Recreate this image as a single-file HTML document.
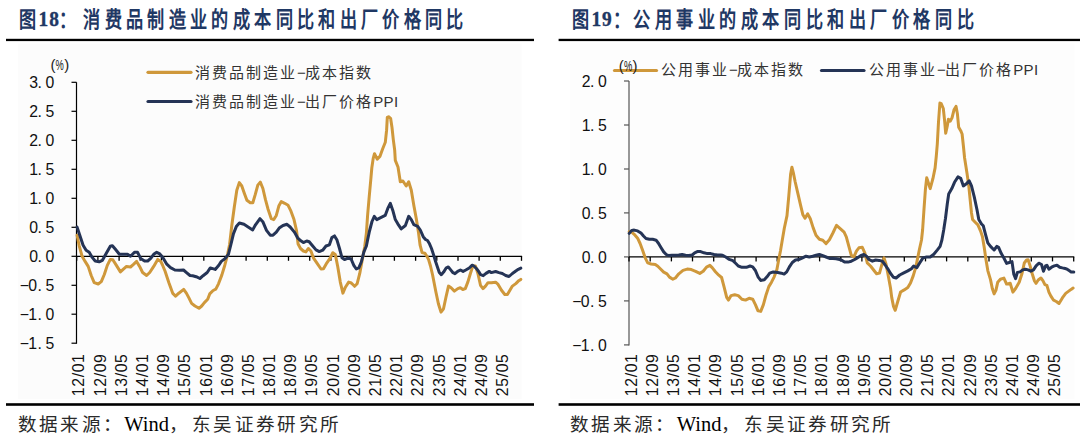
<!DOCTYPE html>
<html lang="zh-CN"><head><meta charset="utf-8"><title>chart</title>
<style>
html,body{margin:0;padding:0;background:#fff;}
body{width:1080px;height:446px;overflow:hidden;position:relative;}
svg{display:block;}
</style></head><body>
<svg width="1080" height="446" viewBox="0 0 1080 446">
<rect width="1080" height="446" fill="#fff"/>
<g font-family="Liberation Serif, serif" font-weight="bold" font-size="21.4" fill="#1F3864" letter-spacing="5.72">
<text transform="translate(19.2,27) scale(0.8,1)">图</text><text transform="translate(38.6,26.2) scale(0.9,1)" font-size="21.5" letter-spacing="1.1" stroke="#1F3864" stroke-width="0.4">18</text><text transform="translate(59.0,27) scale(0.8,1)">：<tspan dx="3.6">消</tspan>费品制造业的成本同比和出厂价格同比</text>
<text transform="translate(571.6,27) scale(0.8,1)">图</text><text transform="translate(591.4,26.2) scale(0.9,1)" font-size="21.5" letter-spacing="1.1" stroke="#1F3864" stroke-width="0.4">19</text><text transform="translate(612.9,27) scale(0.8,1)" letter-spacing="5.97">：<tspan dx="-1.7">公</tspan>用事业的成本同比和出厂价格同比</text>
</g>
<rect x="6" y="38.8" width="528" height="2.3" fill="#000"/>
<rect x="558.6" y="38.8" width="521.4" height="2.3" fill="#000"/>
<rect x="6" y="403.2" width="528" height="2.6" fill="#000"/>
<rect x="558.6" y="403.2" width="521.4" height="2.6" fill="#000"/>
<rect x="17.8" y="43.6" width="503.9" height="355.2" fill="#FCFCFC"/>
<g stroke="#000" stroke-width="1.2" fill="none">
<line x1="76.5" y1="82.3" x2="76.5" y2="343.8"/>
<line x1="71.5" y1="82.3" x2="76.5" y2="82.3"/>
<line x1="71.5" y1="111.3" x2="76.5" y2="111.3"/>
<line x1="71.5" y1="140.3" x2="76.5" y2="140.3"/>
<line x1="71.5" y1="169.3" x2="76.5" y2="169.3"/>
<line x1="71.5" y1="198.3" x2="76.5" y2="198.3"/>
<line x1="71.5" y1="227.3" x2="76.5" y2="227.3"/>
<line x1="71.5" y1="256.3" x2="76.5" y2="256.3"/>
<line x1="71.5" y1="285.3" x2="76.5" y2="285.3"/>
<line x1="71.5" y1="314.2" x2="76.5" y2="314.2"/>
<line x1="71.5" y1="343.2" x2="76.5" y2="343.2"/>
</g>
<g stroke="#000" stroke-width="1.3" fill="none">
<line x1="76.7" y1="256.3" x2="522.1" y2="256.3"/>
<line x1="76.7" y1="256.3" x2="76.7" y2="260.8"/>
<line x1="97.9" y1="256.3" x2="97.9" y2="260.8"/>
<line x1="119.1" y1="256.3" x2="119.1" y2="260.8"/>
<line x1="140.2" y1="256.3" x2="140.2" y2="260.8"/>
<line x1="161.4" y1="256.3" x2="161.4" y2="260.8"/>
<line x1="182.6" y1="256.3" x2="182.6" y2="260.8"/>
<line x1="203.8" y1="256.3" x2="203.8" y2="260.8"/>
<line x1="225.0" y1="256.3" x2="225.0" y2="260.8"/>
<line x1="246.1" y1="256.3" x2="246.1" y2="260.8"/>
<line x1="267.3" y1="256.3" x2="267.3" y2="260.8"/>
<line x1="288.5" y1="256.3" x2="288.5" y2="260.8"/>
<line x1="309.7" y1="256.3" x2="309.7" y2="260.8"/>
<line x1="330.9" y1="256.3" x2="330.9" y2="260.8"/>
<line x1="352.1" y1="256.3" x2="352.1" y2="260.8"/>
<line x1="373.2" y1="256.3" x2="373.2" y2="260.8"/>
<line x1="394.4" y1="256.3" x2="394.4" y2="260.8"/>
<line x1="415.6" y1="256.3" x2="415.6" y2="260.8"/>
<line x1="436.8" y1="256.3" x2="436.8" y2="260.8"/>
<line x1="458.0" y1="256.3" x2="458.0" y2="260.8"/>
<line x1="479.1" y1="256.3" x2="479.1" y2="260.8"/>
<line x1="500.3" y1="256.3" x2="500.3" y2="260.8"/>
<line x1="521.5" y1="256.3" x2="521.5" y2="260.8"/>
</g>
<path d="M77.1,235.2 L79.1,245.3 L82.1,256.3 L85.1,261.4 L88.2,266.4 L91.2,275.5 L94.2,282.6 L98.2,284.0 L101.3,281.6 L104.3,274.5 L107.3,265.4 L110.3,259.4 L112.8,259.8 L116.4,265.4 L120.4,271.9 L123.4,269.1 L126.5,266.4 L130.5,267.0 L133.5,264.4 L136.6,261.4 L139.6,266.4 L142.6,272.5 L146.6,275.5 L149.7,272.5 L153.7,266.4 L157.7,259.4 L160.8,261.4 L162.5,265.0 L165.1,271.3 L168.8,282.5 L172.8,293.4 L175.6,296.2 L178.8,293.2 L183.7,289.4 L186.5,293.4 L188.9,297.9 L191.6,303.3 L195.0,306.0 L199.0,308.3 L201.7,306.0 L204.4,302.6 L207.7,299.3 L209.7,293.9 L213.1,290.5 L215.8,289.2 L218.5,283.8 L221.8,275.1 L224.8,265.2 L227.4,255.3 L229.6,244.5 L231.8,225.5 L234.3,207.0 L236.8,190.2 L239.3,182.6 L241.8,186.0 L244.4,193.5 L246.9,200.3 L250.3,202.8 L252.8,202.8 L255.3,194.4 L257.8,185.1 L260.3,182.1 L262.9,188.5 L265.4,199.4 L267.9,208.7 L271.3,218.7 L273.8,219.6 L276.3,215.4 L278.8,206.1 L281.3,201.6 L284.7,203.3 L288.1,205.3 L290.6,210.3 L294.0,219.6 L296.5,230.5 L298.1,244.0 L300.5,248.5 L303.4,251.0 L305.9,251.9 L308.4,248.5 L310.9,251.0 L313.4,257.8 L316.8,262.8 L321.0,269.0 L323.5,268.7 L326.9,262.8 L330.3,257.8 L332.8,252.7 L335.3,254.4 L337.8,267.0 L340.3,282.1 L342.9,293.1 L345.4,287.2 L348.7,282.1 L351.3,283.0 L354.6,286.3 L357.1,283.8 L359.7,273.7 L362.2,260.3 L364.7,246.8 L366.4,233.0 L367.6,215.4 L369.2,196.9 L370.9,178.4 L371.8,168.0 L373.2,158.4 L374.5,153.7 L377.2,159.1 L379.9,156.4 L382.6,149.0 L385.3,142.3 L386.6,130.2 L387.3,117.4 L388.6,116.7 L390.6,118.3 L392.0,127.5 L393.3,139.6 L394.7,150.3 L395.3,160.4 L398.0,167.0 L400.3,181.8 L402.9,181.0 L406.2,186.0 L408.7,181.8 L411.3,190.2 L413.8,205.3 L416.3,218.8 L418.5,232.6 L420.1,245.2 L422.1,252.6 L424.8,253.2 L426.8,256.0 L428.6,259.6 L430.5,266.0 L432.6,275.0 L435.9,292.0 L438.4,303.7 L441.0,312.1 L443.5,308.8 L446.0,297.0 L448.5,286.1 L451.1,287.8 L454.4,291.1 L457.8,288.6 L460.3,287.8 L462.8,289.5 L465.3,288.6 L467.9,281.9 L470.4,273.5 L472.9,265.9 L475.4,265.9 L477.9,273.5 L480.5,285.3 L483.0,288.6 L485.5,286.1 L488.0,282.7 L491.4,282.7 L495.6,282.2 L498.1,284.4 L501.5,290.3 L504.8,294.5 L507.4,294.5 L509.9,290.3 L512.4,286.1 L515.8,283.6 L518.3,281.1 L520.8,279.4" fill="none" stroke="#CF983B" stroke-width="3.0" stroke-linejoin="round" stroke-linecap="round"/>
<path d="M77.1,227.1 L79.1,233.2 L83.1,245.3 L86.1,250.3 L89.2,252.3 L92.2,257.4 L95.2,261.0 L99.2,261.8 L102.3,260.4 L106.3,253.3 L110.3,246.3 L112.4,245.7 L115.4,249.3 L119.4,254.3 L123.4,254.3 L127.5,254.3 L130.5,256.3 L134.5,252.3 L137.6,252.3 L140.6,258.4 L144.6,261.0 L147.7,261.0 L150.7,258.4 L153.7,254.3 L156.7,252.3 L159.8,253.9 L162.8,257.4 L166.8,264.2 L170.5,267.6 L174.9,270.0 L179.5,270.2 L183.5,270.0 L186.8,272.8 L190.0,275.5 L192.6,275.7 L196.2,276.7 L199.9,278.5 L203.1,275.7 L207.2,272.5 L210.3,267.9 L215.2,269.4 L218.8,265.2 L221.3,261.4 L225.3,258.4 L228.4,254.3 L230.8,245.0 L233.5,233.6 L236.3,226.6 L239.4,223.0 L244.0,224.3 L248.1,226.9 L252.7,229.9 L255.5,224.8 L260.0,218.7 L262.8,221.7 L266.5,230.4 L270.2,235.2 L273.0,235.2 L276.3,232.2 L279.2,228.1 L283.0,225.5 L287.0,224.3 L290.2,227.0 L294.4,232.1 L297.6,237.8 L300.8,240.8 L303.4,242.6 L306.7,241.0 L309.2,241.8 L312.3,245.5 L316.0,249.9 L319.3,251.6 L322.7,250.2 L326.0,246.0 L329.4,244.8 L331.9,237.6 L334.5,235.9 L337.0,240.1 L339.5,248.5 L342.0,257.8 L344.5,259.5 L348.7,257.8 L351.3,259.5 L353.8,265.3 L356.3,269.0 L358.8,267.9 L361.3,262.0 L363.9,251.9 L366.4,246.0 L367.5,240.5 L369.5,231.0 L372.0,221.5 L374.3,216.3 L376.8,219.6 L380.2,217.9 L385.2,215.4 L387.7,208.7 L390.3,203.3 L392.8,210.4 L395.3,219.6 L397.8,223.8 L401.2,228.9 L405.4,225.5 L408.7,216.3 L411.3,219.6 L413.8,224.7 L417.7,226.3 L420.3,230.0 L423.2,236.7 L425.5,239.5 L427.5,240.5 L429.5,243.8 L431.5,248.5 L433.5,254.6 L435.5,261.3 L437.6,267.4 L439.3,272.5 L441.3,274.7 L443.6,272.1 L446.3,267.8 L448.3,267.0 L450.3,269.4 L453.0,272.7 L455.0,273.7 L457.7,271.4 L460.4,270.0 L463.1,271.4 L465.8,270.0 L469.2,268.0 L472.2,265.2 L473.9,266.0 L476.6,268.7 L478.6,271.4 L480.6,274.7 L483.2,275.7 L486.0,273.4 L489.3,271.4 L491.4,272.6 L495.6,271.5 L499.0,272.6 L502.3,273.5 L505.7,275.5 L509.0,276.5 L512.4,273.5 L515.8,271.0 L518.3,269.3 L520.8,268.1" fill="none" stroke="#253456" stroke-width="3.0" stroke-linejoin="round" stroke-linecap="round"/>
<g font-family="Liberation Sans, sans-serif" font-size="15.8" fill="#111" text-anchor="end" letter-spacing="0.6">
<text transform="translate(84.4,353.6) rotate(-90)">12/01</text>
<text transform="translate(105.6,353.6) rotate(-90)">12/09</text>
<text transform="translate(126.8,353.6) rotate(-90)">13/05</text>
<text transform="translate(147.9,353.6) rotate(-90)">14/01</text>
<text transform="translate(169.1,353.6) rotate(-90)">14/09</text>
<text transform="translate(190.3,353.6) rotate(-90)">15/05</text>
<text transform="translate(211.5,353.6) rotate(-90)">16/01</text>
<text transform="translate(232.7,353.6) rotate(-90)">16/09</text>
<text transform="translate(253.8,353.6) rotate(-90)">17/05</text>
<text transform="translate(275.0,353.6) rotate(-90)">18/01</text>
<text transform="translate(296.2,353.6) rotate(-90)">18/09</text>
<text transform="translate(317.4,353.6) rotate(-90)">19/05</text>
<text transform="translate(338.6,353.6) rotate(-90)">20/01</text>
<text transform="translate(359.8,353.6) rotate(-90)">20/09</text>
<text transform="translate(380.9,353.6) rotate(-90)">21/05</text>
<text transform="translate(402.1,353.6) rotate(-90)">22/01</text>
<text transform="translate(423.3,353.6) rotate(-90)">22/09</text>
<text transform="translate(444.5,353.6) rotate(-90)">23/05</text>
<text transform="translate(465.7,353.6) rotate(-90)">24/01</text>
<text transform="translate(486.8,353.6) rotate(-90)">24/09</text>
<text transform="translate(508.0,353.6) rotate(-90)">25/05</text>
</g>
<g font-family="Liberation Sans, sans-serif" font-size="15.8" fill="#111">
<text x="29.3" y="88.1">3</text>
<text x="37.6" y="88.1">.</text>
<text x="45.6" y="88.1">0</text>
<text x="29.3" y="117.1">2</text>
<text x="37.6" y="117.1">.</text>
<text x="45.6" y="117.1">5</text>
<text x="29.3" y="146.1">2</text>
<text x="37.6" y="146.1">.</text>
<text x="45.6" y="146.1">0</text>
<text x="29.3" y="175.1">1</text>
<text x="37.6" y="175.1">.</text>
<text x="45.6" y="175.1">5</text>
<text x="29.3" y="204.1">1</text>
<text x="37.6" y="204.1">.</text>
<text x="45.6" y="204.1">0</text>
<text x="29.3" y="233.1">0</text>
<text x="37.6" y="233.1">.</text>
<text x="45.6" y="233.1">5</text>
<text x="29.3" y="262.1">0</text>
<text x="37.6" y="262.1">.</text>
<text x="45.6" y="262.1">0</text>
<text x="19.8" y="291.1">−</text>
<text x="28.3" y="291.1">0</text>
<text x="37.6" y="291.1">.</text>
<text x="45.6" y="291.1">5</text>
<text x="19.8" y="320.1">−</text>
<text x="28.3" y="320.1">1</text>
<text x="37.6" y="320.1">.</text>
<text x="45.6" y="320.1">0</text>
<text x="19.8" y="349.0">−</text>
<text x="28.3" y="349.0">1</text>
<text x="37.6" y="349.0">.</text>
<text x="45.6" y="349.0">5</text>
</g>
<g>
<line x1="148" y1="72.3" x2="191" y2="72.3" stroke="#CF983B" stroke-width="3.2" stroke-linecap="round"/>
<line x1="148" y1="101.5" x2="191" y2="101.5" stroke="#253456" stroke-width="3.2" stroke-linecap="round"/>
<g font-family="Liberation Sans, sans-serif" font-size="15" fill="#333" letter-spacing="2">
<text x="195" y="77.6">消费品制造业<tspan letter-spacing="-0.5">−</tspan>成本指数</text>
<text x="195" y="106.9">消费品制造业<tspan letter-spacing="-0.5">−</tspan>出厂价格<tspan letter-spacing="0.3">PPI</tspan></text>
</g>
<g font-family="Liberation Sans, sans-serif" font-size="15" fill="#222"><text x="50.4" y="69.6">(</text><text transform="translate(55.6,69.6) scale(0.62,1)">%</text><text x="64.2" y="69.6">)</text></g>
</g>
<rect x="570.3" y="43.6" width="504.3" height="355.2" fill="#FDFDFD"/>
<g stroke="#555" stroke-width="1.2" fill="none">
<line x1="629.0" y1="81.0" x2="629.0" y2="345.5"/>
<line x1="624.0" y1="81.0" x2="629.0" y2="81.0"/>
<line x1="624.0" y1="125.0" x2="629.0" y2="125.0"/>
<line x1="624.0" y1="169.0" x2="629.0" y2="169.0"/>
<line x1="624.0" y1="212.9" x2="629.0" y2="212.9"/>
<line x1="624.0" y1="256.9" x2="629.0" y2="256.9"/>
<line x1="624.0" y1="300.9" x2="629.0" y2="300.9"/>
<line x1="624.0" y1="344.9" x2="629.0" y2="344.9"/>
</g>
<g stroke="#000" stroke-width="1.3" fill="none">
<line x1="629.0" y1="256.9" x2="1074.3" y2="256.9"/>
<line x1="629.0" y1="256.9" x2="629.0" y2="261.4"/>
<line x1="650.2" y1="256.9" x2="650.2" y2="261.4"/>
<line x1="671.4" y1="256.9" x2="671.4" y2="261.4"/>
<line x1="692.5" y1="256.9" x2="692.5" y2="261.4"/>
<line x1="713.7" y1="256.9" x2="713.7" y2="261.4"/>
<line x1="734.9" y1="256.9" x2="734.9" y2="261.4"/>
<line x1="756.1" y1="256.9" x2="756.1" y2="261.4"/>
<line x1="777.2" y1="256.9" x2="777.2" y2="261.4"/>
<line x1="798.4" y1="256.9" x2="798.4" y2="261.4"/>
<line x1="819.6" y1="256.9" x2="819.6" y2="261.4"/>
<line x1="840.8" y1="256.9" x2="840.8" y2="261.4"/>
<line x1="861.9" y1="256.9" x2="861.9" y2="261.4"/>
<line x1="883.1" y1="256.9" x2="883.1" y2="261.4"/>
<line x1="904.3" y1="256.9" x2="904.3" y2="261.4"/>
<line x1="925.5" y1="256.9" x2="925.5" y2="261.4"/>
<line x1="946.6" y1="256.9" x2="946.6" y2="261.4"/>
<line x1="967.8" y1="256.9" x2="967.8" y2="261.4"/>
<line x1="989.0" y1="256.9" x2="989.0" y2="261.4"/>
<line x1="1010.2" y1="256.9" x2="1010.2" y2="261.4"/>
<line x1="1031.3" y1="256.9" x2="1031.3" y2="261.4"/>
<line x1="1052.5" y1="256.9" x2="1052.5" y2="261.4"/>
<line x1="1073.7" y1="256.9" x2="1073.7" y2="261.4"/>
</g>
<path d="M629.2,231.8 L631.7,232.1 L634.2,234.3 L637.6,238.2 L640.1,243.5 L642.6,250.3 L645.2,257.8 L647.7,262.9 L651.1,264.0 L655.3,264.5 L657.8,266.2 L660.3,268.7 L663.7,272.1 L667.0,273.8 L669.5,277.1 L672.9,279.2 L675.4,278.0 L678.8,273.8 L683.0,270.4 L687.2,269.1 L691.4,269.6 L695.6,271.3 L699.8,273.4 L703.2,271.3 L706.5,267.1 L709.9,265.4 L712.4,267.9 L715.4,271.7 L718.8,275.2 L721.6,277.5 L724.0,286.6 L726.7,297.4 L728.5,300.1 L731.1,295.6 L734.7,294.7 L738.3,295.6 L741.9,299.2 L745.5,300.1 L749.1,298.3 L752.7,299.2 L755.4,304.6 L758.0,310.9 L760.7,311.4 L763.4,304.6 L766.1,294.7 L768.8,286.6 L771.5,282.2 L774.2,276.8 L776.9,269.6 L778.7,259.7 L780.5,250.8 L782.3,240.0 L784.3,228.2 L787.0,215.6 L788.8,195.9 L790.6,174.3 L791.9,167.2 L793.3,172.6 L795.1,181.5 L797.8,193.2 L800.5,204.8 L802.9,214.8 L805.0,218.3 L807.7,213.9 L810.3,218.8 L813.2,227.9 L816.0,235.3 L819.4,239.2 L822.8,240.2 L826.1,243.6 L829.4,239.8 L832.9,233.0 L836.5,225.4 L840.2,228.7 L844.1,232.2 L846.3,236.8 L848.8,246.1 L851.3,255.3 L853.9,257.0 L856.4,251.1 L858.9,247.8 L862.3,247.3 L864.8,252.8 L867.3,262.9 L870.7,266.3 L874.0,270.5 L876.6,273.8 L879.5,273.1 L881.7,265.2 L884.0,257.9 L886.0,264.0 L888.5,277.0 L890.5,288.0 L891.7,297.4 L893.5,306.4 L895.2,310.3 L897.9,301.0 L900.6,292.0 L904.2,289.9 L907.8,287.5 L910.5,283.0 L913.2,275.9 L915.9,266.9 L917.7,257.9 L919.5,249.0 L921.5,240.0 L922.6,230.0 L924.0,209.2 L925.4,189.5 L926.7,177.8 L928.5,183.2 L930.2,188.6 L932.9,178.7 L935.1,167.9 L936.3,156.0 L937.3,144.0 L938.5,122.0 L939.9,103.1 L941.2,103.7 L943.3,108.5 L944.6,120.6 L945.7,133.3 L947.3,125.9 L948.4,119.2 L950.2,121.2 L952.0,117.9 L954.0,109.8 L956.0,106.4 L957.4,113.8 L958.7,127.3 L960.7,130.7 L962.1,134.0 L963.4,146.0 L964.6,158.0 L967.0,173.3 L968.8,185.9 L970.2,200.2 L971.5,213.0 L972.6,219.5 L975.2,222.2 L977.9,224.9 L980.6,231.1 L982.4,236.5 L984.2,247.3 L986.0,259.8 L987.8,270.6 L990.5,279.6 L992.3,288.5 L994.1,293.9 L995.9,290.3 L997.7,282.3 L1000.4,279.2 L1003.9,278.1 L1006.6,284.1 L1010.2,283.2 L1012.9,292.1 L1015.6,288.5 L1019.2,282.3 L1022.0,273.5 L1024.3,263.0 L1026.6,260.0 L1028.1,259.8 L1030.1,265.9 L1032.3,274.0 L1034.5,281.0 L1036.1,283.3 L1038.2,280.0 L1040.9,278.0 L1042.9,280.7 L1044.9,284.7 L1046.9,285.4 L1048.9,292.1 L1050.9,296.1 L1053.6,300.2 L1056.3,301.5 L1059.0,303.5 L1061.0,300.2 L1063.1,296.8 L1065.7,293.4 L1068.4,291.4 L1071.1,289.4 L1073.1,288.1" fill="none" stroke="#CF983B" stroke-width="3.0" stroke-linejoin="round" stroke-linecap="round"/>
<path d="M629.2,233.4 L631.7,230.4 L634.2,230.1 L637.6,230.9 L641.0,233.1 L643.5,236.0 L646.0,238.5 L649.4,239.3 L652.7,239.3 L656.1,240.2 L658.6,243.5 L661.1,247.7 L663.7,251.9 L666.2,254.5 L668.7,255.6 L672.1,255.3 L675.4,255.3 L678.8,255.0 L682.1,254.5 L685.5,255.3 L688.9,255.6 L692.2,255.0 L694.7,252.8 L697.3,251.6 L700.6,251.6 L704.0,252.8 L707.4,253.6 L710.7,253.6 L714.1,254.5 L717.4,255.1 L720.8,255.0 L722.2,255.2 L725.8,257.0 L729.3,259.4 L732.9,260.6 L735.6,263.3 L738.3,266.0 L741.9,267.3 L746.4,267.3 L750.0,266.0 L752.7,266.9 L755.4,270.5 L758.0,276.8 L760.7,280.4 L764.3,279.8 L767.0,276.8 L769.7,273.2 L773.3,271.9 L777.8,272.6 L781.4,273.2 L784.1,274.1 L786.7,271.9 L789.4,266.9 L792.3,262.5 L795.5,260.0 L799.2,259.5 L802.6,257.9 L806.0,256.2 L809.3,257.0 L812.7,256.2 L816.1,255.3 L819.4,254.5 L822.8,255.7 L826.1,257.0 L829.5,258.4 L832.9,258.4 L836.2,258.7 L839.6,259.5 L842.1,260.4 L844.6,262.1 L848.0,262.1 L851.3,261.2 L854.7,259.5 L857.2,257.9 L860.6,255.7 L863.9,254.5 L866.5,256.2 L869.0,259.5 L872.4,261.2 L875.7,260.0 L879.1,260.4 L882.5,261.3 L885.2,265.0 L887.8,268.8 L890.6,273.5 L893.5,277.3 L896.1,278.0 L899.7,275.0 L903.3,273.2 L907.8,270.9 L911.4,268.7 L913.7,266.0 L916.8,267.8 L919.5,263.3 L923.0,257.9 L926.6,257.0 L930.2,257.0 L933.8,254.3 L937.4,249.9 L940.1,246.3 L941.9,240.0 L943.7,230.0 L945.5,218.2 L947.3,203.8 L948.7,194.0 L951.8,188.6 L954.5,182.3 L958.0,176.9 L960.7,178.3 L963.4,185.9 L966.1,184.1 L969.2,180.9 L971.5,185.9 L974.2,196.6 L976.9,209.2 L978.8,219.5 L981.5,224.0 L983.3,225.8 L985.1,232.9 L987.8,242.8 L990.5,246.4 L994.1,250.0 L996.8,246.4 L998.6,247.3 L1001.3,253.6 L1003.9,258.0 L1006.6,263.4 L1009.3,262.5 L1012.0,261.6 L1013.8,274.2 L1015.6,278.7 L1017.4,272.4 L1020.0,271.9 L1022.7,269.9 L1025.4,269.2 L1028.1,269.9 L1030.8,271.2 L1033.5,269.9 L1036.1,265.9 L1038.8,263.2 L1041.5,264.5 L1043.5,271.2 L1045.6,265.9 L1046.9,265.2 L1048.9,269.2 L1051.6,267.2 L1054.3,265.9 L1057.0,265.2 L1059.7,267.2 L1062.4,267.9 L1065.1,268.5 L1067.1,269.2 L1069.1,270.6 L1071.1,271.9 L1073.8,271.9" fill="none" stroke="#253456" stroke-width="3.0" stroke-linejoin="round" stroke-linecap="round"/>
<g font-family="Liberation Sans, sans-serif" font-size="15.8" fill="#111" text-anchor="end" letter-spacing="0.6">
<text transform="translate(636.7,353.6) rotate(-90)">12/01</text>
<text transform="translate(657.9,353.6) rotate(-90)">12/09</text>
<text transform="translate(679.1,353.6) rotate(-90)">13/05</text>
<text transform="translate(700.2,353.6) rotate(-90)">14/01</text>
<text transform="translate(721.4,353.6) rotate(-90)">14/09</text>
<text transform="translate(742.6,353.6) rotate(-90)">15/05</text>
<text transform="translate(763.8,353.6) rotate(-90)">16/01</text>
<text transform="translate(784.9,353.6) rotate(-90)">16/09</text>
<text transform="translate(806.1,353.6) rotate(-90)">17/05</text>
<text transform="translate(827.3,353.6) rotate(-90)">18/01</text>
<text transform="translate(848.5,353.6) rotate(-90)">18/09</text>
<text transform="translate(869.6,353.6) rotate(-90)">19/05</text>
<text transform="translate(890.8,353.6) rotate(-90)">20/01</text>
<text transform="translate(912.0,353.6) rotate(-90)">20/09</text>
<text transform="translate(933.2,353.6) rotate(-90)">21/05</text>
<text transform="translate(954.3,353.6) rotate(-90)">22/01</text>
<text transform="translate(975.5,353.6) rotate(-90)">22/09</text>
<text transform="translate(996.7,353.6) rotate(-90)">23/05</text>
<text transform="translate(1017.9,353.6) rotate(-90)">24/01</text>
<text transform="translate(1039.0,353.6) rotate(-90)">24/09</text>
<text transform="translate(1060.2,353.6) rotate(-90)">25/05</text>
</g>
<g font-family="Liberation Sans, sans-serif" font-size="15.8" fill="#111">
<text x="581.8" y="86.8">2</text>
<text x="590.1" y="86.8">.</text>
<text x="598.1" y="86.8">0</text>
<text x="581.8" y="130.8">1</text>
<text x="590.1" y="130.8">.</text>
<text x="598.1" y="130.8">5</text>
<text x="581.8" y="174.8">1</text>
<text x="590.1" y="174.8">.</text>
<text x="598.1" y="174.8">0</text>
<text x="581.8" y="218.7">0</text>
<text x="590.1" y="218.7">.</text>
<text x="598.1" y="218.7">5</text>
<text x="581.8" y="262.7">0</text>
<text x="590.1" y="262.7">.</text>
<text x="598.1" y="262.7">0</text>
<text x="572.3" y="306.7">−</text>
<text x="580.8" y="306.7">0</text>
<text x="590.1" y="306.7">.</text>
<text x="598.1" y="306.7">5</text>
<text x="572.3" y="350.7">−</text>
<text x="580.8" y="350.7">1</text>
<text x="590.1" y="350.7">.</text>
<text x="598.1" y="350.7">0</text>
</g>
<g>
<line x1="614.5" y1="70.5" x2="656.5" y2="70.5" stroke="#CF983B" stroke-width="3.2" stroke-linecap="round"/>
<line x1="821.5" y1="70.5" x2="864" y2="70.5" stroke="#253456" stroke-width="3.2" stroke-linecap="round"/>
<g font-family="Liberation Sans, sans-serif" font-size="15" fill="#333" letter-spacing="2">
<text x="661" y="75.3">公用事业<tspan letter-spacing="-0.5">−</tspan>成本指数</text>
<text x="869" y="75.3">公用事业<tspan letter-spacing="-0.5">−</tspan>出厂价格<tspan letter-spacing="0.3">PPI</tspan></text>
</g>
<g font-family="Liberation Sans, sans-serif" font-size="15" fill="#222"><text x="618.7" y="71.0">(</text><text transform="translate(623.9,71.0) scale(0.62,1)">%</text><text x="632.5" y="71.0">)</text></g>
</g>
<g font-family="Liberation Serif, serif" font-size="18.6" fill="#2a2a2a" letter-spacing="2.35">
<text x="17.6" y="431">数据来源：<tspan font-size="20.5" letter-spacing="0" fill="#000">Wind</tspan>，<tspan dx="1.5">东</tspan>吴证券研究所</text>
<text x="570" y="431">数据来源：<tspan font-size="20.5" letter-spacing="0" fill="#000">Wind</tspan>，<tspan dx="1.5">东</tspan>吴证券研究所</text>
</g>
</svg>
</body></html>
